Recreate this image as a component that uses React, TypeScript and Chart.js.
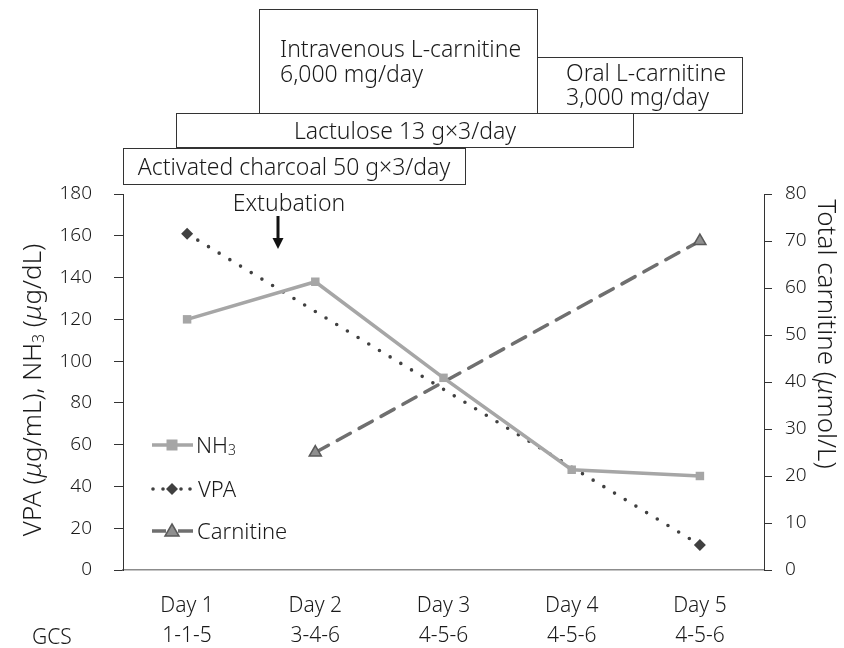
import React, { useEffect, useRef } from 'react';
import { Chart, registerables } from 'chart.js';
Chart.register(...registerables);

const FONT = '"Noto Sans", "DejaVu Sans", sans-serif';
const W = 300;

const categories = ['Day 1', 'Day 2', 'Day 3', 'Day 4', 'Day 5'];
const gcsScores = ['1-1-5', '3-4-6', '4-5-6', '4-5-6', '4-5-6'];
const nh3Values = [120, 138, 92, 48, 45];
const vpaValues = [161, null, null, null, 12];
const carnitineValues = [null, 25, null, null, 70];
const leftAxis = { min: 0, max: 180, step: 20 };
const rightAxis = { min: 0, max: 80, step: 10 };

type Seg = { t: string; it?: boolean; sub?: boolean };

function segFont(s: Seg, size: number) {
  return `${s.it ? 'italic ' : ''}${W} ${s.sub ? Math.round(size * 0.62) : size}px ${FONT}`;
}
function richWidth(ctx: CanvasRenderingContext2D, segs: Seg[], size: number) {
  let w = 0;
  for (const s of segs) {
    ctx.font = segFont(s, size);
    w += ctx.measureText(s.t).width;
  }
  return w;
}
function drawRich(ctx: CanvasRenderingContext2D, segs: Seg[], x: number, y: number, size: number, align: 'left' | 'center') {
  const w = richWidth(ctx, segs, size);
  let cx = align === 'center' ? x - w / 2 : x;
  ctx.textAlign = 'left';
  ctx.textBaseline = 'alphabetic';
  const base = y + size * 0.36;
  for (const s of segs) {
    ctx.font = segFont(s, size);
    ctx.fillText(s.t, cx, s.sub ? base + size * 0.1 : base);
    cx += ctx.measureText(s.t).width;
  }
}

const overlay = {
  id: 'overlay',
  afterDraw(chart: any) {
    const ctx: CanvasRenderingContext2D = chart.ctx;
    ctx.save();
    ctx.fillStyle = '#222';
    ctx.strokeStyle = '#333';
    ctx.lineWidth = 1;
    // treatment boxes
    const boxes = [
      { x: 259.5, y: 9.5, w: 278, h: 104 },
      { x: 537.5, y: 57.5, w: 205, h: 56 },
      { x: 176.5, y: 113.5, w: 457, h: 34 },
      { x: 123.5, y: 148.5, w: 342, h: 36 },
    ];
    for (const b of boxes) {
      ctx.fillStyle = '#fff';
      ctx.fillRect(b.x, b.y, b.w, b.h);
      ctx.strokeRect(b.x, b.y, b.w, b.h);
    }
    ctx.fillStyle = '#1a1a1a';
    const fs = 23;
    drawRich(ctx, [{ t: 'Intravenous L-carnitine' }], 280, 49, fs, 'left');
    drawRich(ctx, [{ t: '6,000 mg/day' }], 280, 74, fs, 'left');
    drawRich(ctx, [{ t: 'Oral L-carnitine' }], 566, 73, fs, 'left');
    drawRich(ctx, [{ t: '3,000 mg/day' }], 566, 97, fs, 'left');
    drawRich(ctx, [{ t: 'Lactulose 13 g\u00d73/day' }], 405, 131, fs, 'center');
    drawRich(ctx, [{ t: 'Activated charcoal 50 g\u00d73/day' }], 294, 167, fs, 'center');
    // extubation
    drawRich(ctx, [{ t: 'Extubation' }], 289, 203, fs, 'center');
    ctx.strokeStyle = '#111';
    ctx.lineWidth = 3;
    ctx.beginPath();
    ctx.moveTo(278, 216);
    ctx.lineTo(278, 240);
    ctx.stroke();
    ctx.fillStyle = '#111';
    ctx.beginPath();
    ctx.moveTo(272.5, 238);
    ctx.lineTo(283.5, 238);
    ctx.lineTo(278, 249);
    ctx.closePath();
    ctx.fill();
    // axis titles
    const ts = 26;
    ctx.fillStyle = '#1a1a1a';
    ctx.save();
    ctx.translate(32, 390);
    ctx.rotate(-Math.PI / 2);
    drawRich(ctx, [
      { t: 'VPA (' }, { t: '\u03bc', it: true }, { t: 'g/mL), NH' }, { t: '3', sub: true },
      { t: ' (' }, { t: '\u03bc', it: true }, { t: 'g/dL)' },
    ], 0, 0, ts, 'center');
    ctx.restore();
    ctx.save();
    ctx.translate(827, 334);
    ctx.rotate(Math.PI / 2);
    drawRich(ctx, [{ t: 'Total carnitine (' }, { t: '\u03bc', it: true }, { t: 'mol/L)' }], 0, 0, ts, 'center');
    ctx.restore();
    // GCS row label
    drawRich(ctx, [{ t: 'GCS' }], 32, 636, 21, 'left');
    // legend
    const lx0 = 152, lx1 = 193, mx = 172;
    // NH3
    ctx.strokeStyle = '#a6a6a6';
    ctx.lineWidth = 3.5;
    ctx.beginPath(); ctx.moveTo(lx0, 445); ctx.lineTo(lx1, 445); ctx.stroke();
    ctx.fillStyle = '#a6a6a6';
    ctx.fillRect(mx - 5.5, 445 - 5.5, 11, 11);
    // VPA
    ctx.fillStyle = '#404040';
    for (const dx of [153, 163, 181, 190]) {
      ctx.beginPath(); ctx.arc(dx, 489, 1.8, 0, Math.PI * 2); ctx.fill();
    }
    ctx.beginPath();
    ctx.moveTo(mx, 489 - 6); ctx.lineTo(mx + 6, 489); ctx.lineTo(mx, 489 + 6); ctx.lineTo(mx - 6, 489);
    ctx.closePath(); ctx.fill();
    // Carnitine
    ctx.strokeStyle = '#6f6f6f';
    ctx.lineWidth = 3.5;
    ctx.beginPath(); ctx.moveTo(lx0, 531); ctx.lineTo(166, 531); ctx.moveTo(178, 531); ctx.lineTo(lx1, 531); ctx.stroke();
    ctx.fillStyle = '#8f8f8f';
    ctx.strokeStyle = '#5a5a5a';
    ctx.lineWidth = 1.5;
    ctx.beginPath();
    ctx.moveTo(mx, 531 - 7); ctx.lineTo(mx + 7, 531 + 5); ctx.lineTo(mx - 7, 531 + 5); ctx.closePath();
    ctx.fill(); ctx.stroke();
    ctx.fillStyle = '#1a1a1a';
    drawRich(ctx, [{ t: 'NH' }, { t: '3', sub: true }], 196, 445, 22, 'left');
    drawRich(ctx, [{ t: 'VPA' }], 198, 489, 22, 'left');
    drawRich(ctx, [{ t: 'Carnitine' }], 197, 531, 22, 'left');
    ctx.restore();
  },
};

export default function App() {
  const ref = useRef<HTMLCanvasElement>(null);
  useEffect(() => {
    document.body.style.margin = '0';
    const labels = categories.map((c, i) => [c, gcsScores[i]]);
    const chart = new Chart(ref.current!, {
      type: 'line',
      data: {
        labels,
        datasets: [
          {
            label: 'NH3',
            data: nh3Values,
            yAxisID: 'y',
            borderColor: '#a6a6a6',
            backgroundColor: '#a6a6a6',
            borderWidth: 3.5,
            pointStyle: 'rect',
            pointRadius: 6,
            pointBorderWidth: 0,
          },
          {
            label: 'VPA',
            data: vpaValues,
            yAxisID: 'y',
            spanGaps: true,
            borderColor: '#404040',
            backgroundColor: '#404040',
            borderWidth: 3.6,
            borderDash: [0, 12.5],
            borderCapStyle: 'round',
            pointStyle: 'rectRot',
            pointRadius: 6,
            pointBorderWidth: 0,
          },
          {
            label: 'Carnitine',
            data: carnitineValues,
            yAxisID: 'y1',
            spanGaps: true,
            borderColor: '#6f6f6f',
            backgroundColor: '#8f8f8f',
            pointBorderColor: '#5a5a5a',
            pointBorderWidth: 1.5,
            borderWidth: 3.5,
            borderDash: [15, 10],
            borderCapStyle: 'round',
            pointStyle: 'triangle',
            pointRadius: 7,
          },
        ] as any,
      },
      options: {
        animation: false,
        responsive: false,
        layout: { padding: { top: 194, left: 0, right: 0, bottom: 0 } },
        plugins: { legend: { display: false }, tooltip: { enabled: false } },
        scales: {
          x: {
            type: 'category',
            offset: true,
            grid: { display: false, drawTicks: false },
            border: { display: true, color: '#8c8c8c', width: 1.5 },
            ticks: {
              font: { family: FONT, size: 21, weight: W, lineHeight: 30 / 21 },
              color: '#1a1a1a',
              padding: 21,
              maxRotation: 0,
              autoSkip: false,
            },
            afterFit: (s: any) => { s.height = 78; },
          },
          y: {
            position: 'left',
            min: leftAxis.min,
            max: leftAxis.max,
            ticks: { stepSize: leftAxis.step, font: { family: FONT, size: 19, weight: W }, color: '#1a1a1a', padding: 22 },
            grid: { drawOnChartArea: false, drawTicks: true, tickLength: 9, color: '#333' },
            border: { display: true, color: '#333', width: 1 },
            afterFit: (s: any) => { s.width = 123; },
          },
          y1: {
            position: 'right',
            min: rightAxis.min,
            max: rightAxis.max,
            ticks: { stepSize: rightAxis.step, font: { family: FONT, size: 19, weight: W }, color: '#1a1a1a', padding: 13 },
            grid: { drawOnChartArea: false, drawTicks: true, tickLength: 8, color: '#333' },
            border: { display: true, color: '#333', width: 1 },
            afterFit: (s: any) => { s.width = 80; },
          },
        } as any,
      },
      plugins: [overlay],
    });
    return () => chart.destroy();
  }, []);
  return (
    <div style={{ width: 844, height: 648 }}>
      <canvas ref={ref} width={844} height={648} />
    </div>
  );
}
